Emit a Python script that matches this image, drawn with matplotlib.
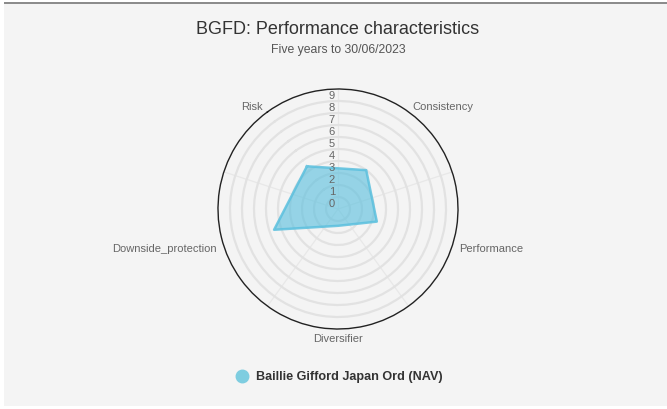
import numpy as np
import matplotlib
matplotlib.use('Agg')
import matplotlib.pyplot as plt
from matplotlib.patches import Rectangle

plt.rcParams['font.family'] = ['Liberation Sans', 'DejaVu Sans']

# chart data
categories = ['Risk', 'Consistency', 'Performance', 'Diversifier', 'Downside_protection']
values = [4.4, 4.0, 3.4, 1.4, 5.6]
series_name = 'Baillie Gifford Japan Ord (NAV)'
ticks = list(range(0, 10))

W, H = 667, 410
fig = plt.figure(figsize=(W / 100, H / 100), dpi=100)
fig.patch.set_facecolor('white')

# panel background + top border
fig.add_artist(Rectangle((4 / W, 3 / H), 663 / W, 402 / H, transform=fig.transFigure,
                         facecolor='#f4f4f4', edgecolor='none', zorder=-10))
fig.add_artist(Rectangle((4 / W, (H - 5) / H), 663 / W, 2.5 / H, transform=fig.transFigure,
                         facecolor='#8c8c8c', edgecolor='none', zorder=-9))

fig.text(338 / W, 1 - 29 / H, 'BGFD: Performance characteristics', ha='center', va='center',
         fontsize=13, color='#333333')
fig.text(338 / W, 1 - 50 / H, 'Five years to 30/06/2023', ha='center', va='center',
         fontsize=8.8, color='#555555')

# radar
cx, cy, R = 338, 210, 120
ax = fig.add_axes([(cx - R) / W, (H - cy - R) / H, 2 * R / W, 2 * R / H], projection='polar')
ax.set_facecolor('none')
ax.set_theta_offset(np.pi / 2 + np.deg2rad(36))
ax.set_theta_direction(-1)

n = len(categories)
angles = np.arange(n) * 2 * np.pi / n

ax.set_rgrids(range(1, 10), labels=[])
ax.set_thetagrids((np.degrees(angles) + 36) % 360, labels=[])
ax.set_thetalim(0, 2 * np.pi)
ax.set_ylim(0, 10)
ax.yaxis.grid(True, color='#e2e2e2', linewidth=1.6)
ax.xaxis.grid(True, color='#e8e8e8', linewidth=0.9)
ax.spines['polar'].set_color('#222222')
ax.spines['polar'].set_linewidth(1.0)
ax.tick_params(pad=0)

a = np.append(angles, angles[0])
v = np.append(values, values[0])
ax.fill(a, v, color='#5bc0de', alpha=0.62, zorder=3, linewidth=0)
ax.plot(a, v, color='#5bc0de', alpha=0.85, linewidth=1.8, zorder=4)

# tick labels along the top spoke
top = np.deg2rad(36)
for k in ticks:
    ax.annotate(str(k), xy=(top, k), xytext=(-4.5, 4.3), textcoords='offset points',
                ha='center', va='center', fontsize=8, color='#666666', zorder=5)

# point labels
rlab = 10.6
for ang, name in zip(angles, categories):
    deg = (90 + 36 - np.degrees(ang)) % 360
    x = np.cos(np.deg2rad(deg))
    if abs(x) < 0.1:
        ha = 'center'
    elif x > 0:
        ha = 'left'
    else:
        ha = 'right'
    va = 'center'
    if 250 < deg < 290:
        va = 'top'
        r = 10.3
    else:
        r = rlab
    ax.text(ang, r, name, ha=ha, va=va, fontsize=8, color='#666666')

# legend
fig.add_artist(plt.Line2D([242 / W], [1 - 377 / H], marker='o', markersize=9,
                          color='#7ecde0', linestyle='none', transform=fig.transFigure))
fig.text(256 / W, 1 - 377 / H, series_name, ha='left', va='center', fontsize=9.1,
         fontweight='bold', color='#333333')

fig.savefig('out.png', dpi=100)
